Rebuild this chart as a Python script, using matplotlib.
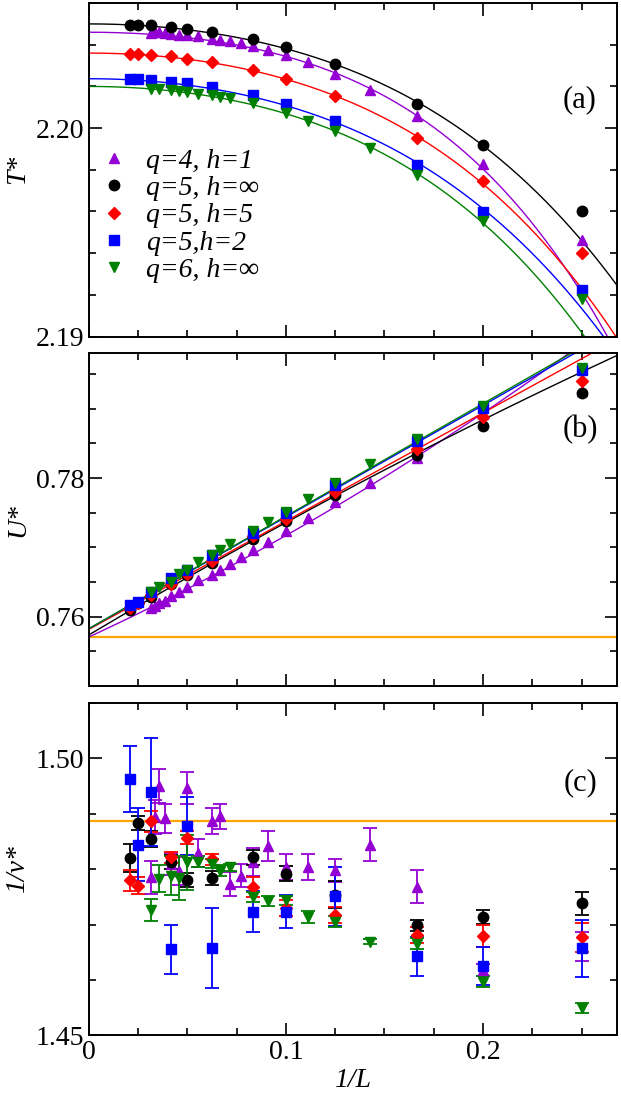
import numpy as np
import matplotlib
matplotlib.use('Agg')
import matplotlib.pyplot as plt
from matplotlib.ticker import MultipleLocator

plt.rcParams['font.family'] = ['Liberation Serif', 'DejaVu Serif']
plt.rcParams['mathtext.fontset'] = 'stix'

# ---------------- data ----------------
labels = ["q=4, h=1", "q=5, h=\u221e", "q=5, h=5", "q=5,h=2", "q=6, h=\u221e"]
colors = ["#9400d3", "#000000", "#ff0000", "#0000ff", "#008000"]
markers = ["^", "o", "D", "s", "v"]
msizes = [7.5, 7.5, 6.0, 6.8, 7.5]

# lattice sizes
L_q4 = [32, 30, 28, 26, 24, 22, 20, 18, 16, 15, 14, 13, 12, 11, 10, 9, 8, 7, 6, 5, 4]
L_q5 = [48, 40, 32, 24, 20, 16, 12, 10, 8, 6, 5, 4]
L_q6_a = [32, 28, 24, 22, 20, 18, 16, 15, 14, 12, 10, 9, 8, 7, 6, 5, 4]
L_q6 = [32, 28, 24, 22, 20, 18, 16, 15, 14, 12, 11, 10, 9, 8, 7, 6, 5, 4]

# panel (a): T*
T_q4 = [2.20458, 2.20461, 2.20461, 2.20458, 2.20453, 2.20448, 2.20445, 2.20440, 2.20429, 2.20424,
        2.20420, 2.20408, 2.20392, 2.20377, 2.20349, 2.20317, 2.20258, 2.20184, 2.20056, 2.19829, 2.19461]
T_q5inf = [2.20497, 2.20497, 2.20493, 2.20484, 2.20477, 2.20460, 2.20429, 2.20388, 2.20309, 2.20117, 2.19920, 2.19602]
T_q5h5 = [2.20357, 2.20357, 2.20353, 2.20345, 2.20333, 2.20317, 2.20280, 2.20237, 2.20152, 2.19952, 2.19744, 2.19402]
T_q5h2 = [2.20234, 2.20234, 2.20229, 2.20221, 2.20216, 2.20197, 2.20160, 2.20117, 2.20034, 2.19821, 2.19597, 2.19225]
T_q6 = [2.20189, 2.20186, 2.20181, 2.20178, 2.20173, 2.20165, 2.20157, 2.20149, 2.20146, 2.20122,
        2.20074, 2.20034, 2.19986, 2.19904, 2.19773, 2.19554, 2.19178]
# fit parameters T = T0 - b x^2 - d x^4
T_fit_T0 = [2.2046, 2.2050, 2.2036, 2.20237, 2.2020]
T_fit_b = [0.10, 0.11, 0.115, 0.12, 0.12]
T_fit_d = [1.6, 0.9, 1.05, 0.9, 1.1]

# panel (b): U*
U_q4 = [0.76130, 0.76158, 0.76193, 0.76226, 0.76298, 0.76351, 0.76432, 0.76528, 0.76600, 0.76682,
        0.76758, 0.76863, 0.76970, 0.77079, 0.77237, 0.77424, 0.77655, 0.77928, 0.78293, 0.78930, 0.79260]
U_q5inf = [0.76096, 0.76193, 0.76288, 0.76470, 0.76600, 0.76777, 0.77128, 0.77377, 0.77751, 0.78337, 0.78758, 0.79229]
U_q5h5 = [0.76125, 0.76200, 0.76310, 0.76470, 0.76620, 0.76800, 0.77160, 0.77410, 0.77800, 0.78423, 0.78888, 0.79396]
U_q5h2 = [0.76170, 0.76220, 0.76351, 0.76553, 0.76682, 0.76888, 0.77214, 0.77496, 0.77905, 0.78528, 0.79007, 0.79560]
U_q6 = [0.76360, 0.76432, 0.76504, 0.76624, 0.76672, 0.76791, 0.76888, 0.76970, 0.77046, 0.77237,
        0.77367, 0.77511, 0.77704, 0.77928, 0.78207, 0.78567, 0.79036, 0.79589]
# fit parameters U = U0 + a x + c x^2
U_fit_U0 = [0.7571, 0.7574, 0.7582, 0.7583, 0.7583]
U_fit_a = [0.1312, 0.1689, 0.1560, 0.1610, 0.1622]
U_fit_c = [0.1507, -0.0694, 0.0, 0.0, 0.0]
U_ref = 0.7571

# panel (c): 1/nu*
N_q4 = [1.4785, 1.4894, 1.4950, 1.4892, 1.4810, 1.4797, 1.4946, 1.4829, 1.4887, 1.4895, 1.4773,
        1.4788, 1.4813, 1.4842, 1.4804, 1.4804, 1.4798, 1.4844, 1.4768, 1.4618, 1.4661]
E_q4 = [0.003, 0.003, 0.003, 0.0026, 0.002, 0.0025, 0.0029, 0.0026, 0.0023, 0.0022, 0.0022,
        0.0021, 0.0026, 0.0027, 0.0024, 0.0023, 0.0021, 0.003, 0.003, 0.001, 0.0026]
N_q5inf = [1.4820, 1.4883, 1.4854, 1.4813, 1.4780, 1.4784, 1.4821, 1.4792, 1.4754, 1.4699, 1.4714, 1.4738]
E_q5inf = [0.0026, 0.0013, 0.0014, 0.0012, 0.0013, 0.0013, 0.0013, 0.0013, 0.0024, 0.001, 0.0013, 0.0021]
N_q5h5 = [1.4780, 1.4770, 1.4886, 1.4821, 1.4857, 1.4818, 1.4767, 1.4730, 1.4717, 1.4681, 1.4680, 1.4677]
E_q5h5 = [0.0019, 0.0015, 0.0019, 0.001, 0.0012, 0.001, 0.0018, 0.0015, 0.0015, 0.0015, 0.002, 0.0026]
N_q5h2 = [1.4963, 1.4844, 1.4939, 1.4655, 1.4878, 1.4658, 1.4723, 1.4723, 1.4751, 1.4643, 1.4625, 1.4657]
E_q5h2 = [0.0059, 0.0066, 0.0098, 0.0045, 0.0053, 0.0072, 0.0037, 0.003, 0.0053, 0.0035, 0.0035, 0.0052]
N_q6 = [1.4726, 1.4783, 1.4788, 1.4784, 1.4812, 1.4813, 1.4810, 1.4797, 1.4803, 1.4750, 1.4742,
        1.4744, 1.4713, 1.4705, 1.4669, 1.4665, 1.4597, 1.4549]
E_q6 = [0.002, 0.0025, 0.0035, 0.004, 0.0049, 0.001, 0.0008, 0.001, 0.0007, 0.0009, 0.0009,
        0.0008, 0.0011, 0.001, 0.0005, 0.001, 0.001, 0.0009]
N_ref = 1.4887

x_ticks = [0, 0.1, 0.2]
x_tick_labels = ["0", "0.1", "0.2"]

# ---------------- figure ----------------
fig = plt.figure(figsize=(6.21, 10.94), dpi=100)
left, width = 0.1433, 0.8502
ax_a = fig.add_axes([left, 0.6924, width, 0.3048])
ax_b = fig.add_axes([left, 0.3728, width, 0.3043])
ax_c = fig.add_axes([left, 0.0536, width, 0.3039])

FS = 20
xmax = 0.268
xx = np.linspace(0, xmax, 400)


def inv(L):
    return 1.0 / np.asarray(L, dtype=float)


def style(ax, ymin, ymax, ymaj, ymin_step, yticks, ylabels):
    ax.set_xlim(0, xmax)
    ax.set_ylim(ymin, ymax)
    ax.xaxis.set_major_locator(MultipleLocator(0.1))
    ax.xaxis.set_minor_locator(MultipleLocator(0.025))
    ax.yaxis.set_minor_locator(MultipleLocator(ymin_step))
    ax.set_yticks(yticks)
    ax.set_yticklabels(ylabels)
    ax.tick_params(which='both', direction='in', top=True, right=True, width=1.2)
    ax.tick_params(which='major', length=9, labelsize=FS)
    ax.tick_params(which='minor', length=5)
    for s in ax.spines.values():
        s.set_linewidth(1.4)


# panel (a)
Ta = [(L_q4, T_q4), (L_q5, T_q5inf), (L_q5, T_q5h5), (L_q5, T_q5h2), (L_q6_a, T_q6)]
for i in range(5):
    ax_a.plot(xx, T_fit_T0[i] - T_fit_b[i] * xx**2 - T_fit_d[i] * xx**4, color=colors[i], lw=1.0, zorder=2)
for i, (Ls, Ts) in enumerate(Ta):
    ax_a.plot(inv(Ls), Ts, linestyle='none', marker=markers[i], ms=msizes[i], color=colors[i],
              mec=colors[i], label=labels[i], zorder=3)
style(ax_a, 2.19, 2.206, 0.01, 0.002, [2.19, 2.20], ["2.19", "2.20"])
ax_a.set_xticklabels([])
ax_a.set_ylabel("T*", fontsize=FS, style='italic', labelpad=4)
ax_a.text(0.93, 0.71, "(a)", transform=ax_a.transAxes, fontsize=FS + 2, ha='center', va='center')
leg = ax_a.legend(loc='upper left', bbox_to_anchor=(-0.015, 0.615), frameon=False,
                  prop={'size': FS, 'style': 'italic'}, handletextpad=0.55, labelspacing=0.07,
                  handlelength=1.2, borderaxespad=0.2)

# panel (b)
Ub = [(L_q4, U_q4), (L_q5, U_q5inf), (L_q5, U_q5h5), (L_q5, U_q5h2), (L_q6, U_q6)]
for i in range(5):
    ax_b.plot(xx, U_fit_U0[i] + U_fit_a[i] * xx + U_fit_c[i] * xx**2, color=colors[i], lw=1.0, zorder=2)
ax_b.axhline(U_ref, color='#ffa500', lw=1.6, zorder=1)
for i, (Ls, Us) in enumerate(Ub):
    ax_b.plot(inv(Ls), Us, linestyle='none', marker=markers[i], ms=msizes[i], color=colors[i],
              mec=colors[i], zorder=3)
style(ax_b, 0.75, 0.798, 0.02, 0.005, [0.76, 0.78], ["0.76", "0.78"])
ax_b.set_xticklabels([])
ax_b.set_ylabel("U*", fontsize=FS, style='italic', labelpad=4)
ax_b.text(0.93, 0.77, "(b)", transform=ax_b.transAxes, fontsize=FS + 2, ha='center', va='center')

# panel (c)
Nc = [(L_q4, N_q4, E_q4), (L_q5, N_q5inf, E_q5inf), (L_q5, N_q5h5, E_q5h5),
      (L_q5, N_q5h2, E_q5h2), (L_q6, N_q6, E_q6)]
ax_c.axhline(N_ref, color='#ffa500', lw=1.6, zorder=1)
for i, (Ls, Ns, Es) in enumerate(Nc):
    ax_c.errorbar(inv(Ls), Ns, yerr=Es, linestyle='none', marker=markers[i], ms=msizes[i],
                  color=colors[i], mec=colors[i], ecolor=colors[i], elinewidth=1.3,
                  capsize=4.8, capthick=1.3, zorder=3)
style(ax_c, 1.45, 1.51, 0.05, 0.01, [1.45, 1.50], ["1.45", "1.50"])
ax_c.set_xticks(x_ticks)
ax_c.set_xticklabels(x_tick_labels)
ax_c.set_ylabel("1/\u03bd*", fontsize=FS, style='italic', labelpad=4)
ax_c.set_xlabel("1/L", fontsize=FS, style='italic', labelpad=2)
ax_c.text(0.93, 0.76, "(c)", transform=ax_c.transAxes, fontsize=FS + 2, ha='center', va='center')

fig.savefig("out.png", dpi=100)
